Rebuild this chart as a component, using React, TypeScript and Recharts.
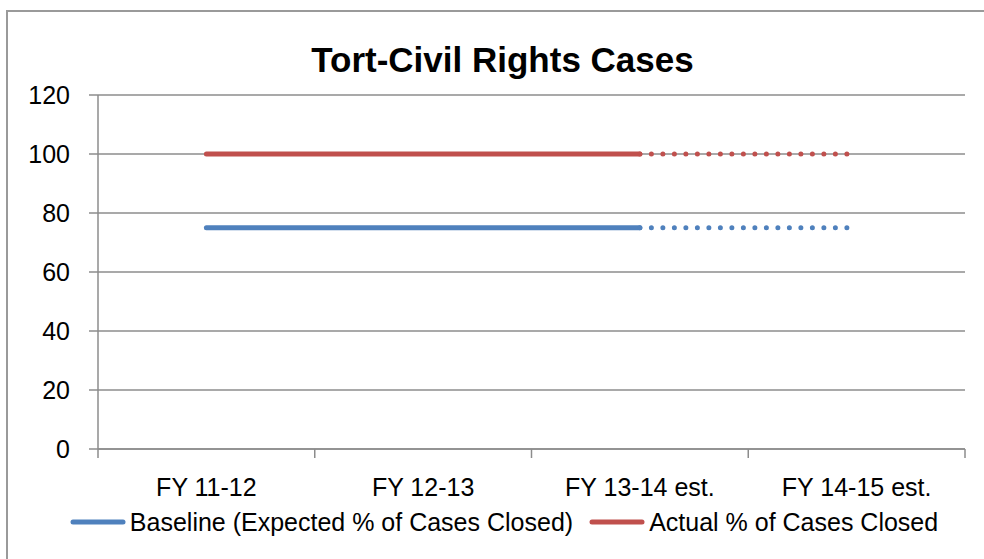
import React from 'react';
import { LineChart, Line, XAxis, YAxis, CartesianGrid, Legend } from 'recharts';

const TITLE = 'Tort-Civil Rights Cases';
const categories = ['FY 11-12', 'FY 12-13', 'FY 13-14 est.', 'FY 14-15 est.'];
const baselineValues = [75, 75, 75, 75];
const actualValues = [100, 100, 100, 100];
const isEstimate = [false, false, true, true];
const yTicks = [0, 20, 40, 60, 80, 100, 120];
const seriesNames = ['Baseline (Expected % of Cases Closed)', 'Actual % of Cases Closed'];
const seriesColors = ['#4F81BD', '#C0504D'];

const FONT = '"Liberation Sans", Arial, sans-serif';
const W = 984;
const H = 559;
const MARGIN = { top: 95, right: 19, bottom: 50, left: 0 };
const Y_AXIS_W = 98;
const X_AXIS_H = 60;
const GRID = '#8c8c8c';

const seriesValues = [baselineValues, actualValues];
const keys = ['baseline', 'actual'];

const data = categories.map((cat, i) => {
  const row: Record<string, any> = { cat };
  const solid = !isEstimate[i] || (i > 0 && !isEstimate[i - 1]);
  const dotted = isEstimate[i];
  keys.forEach((k, s) => {
    row[k + 'Solid'] = solid ? seriesValues[s][i] : null;
    row[k + 'Dotted'] = dotted ? seriesValues[s][i] : null;
  });
  return row;
});

const plotWidth = W - MARGIN.left - MARGIN.right - Y_AXIS_W;
const band = plotWidth / categories.length;

const XTick = (props: any) => {
  const { x, y, payload, index } = props;
  const cx = x;
  return (
    <g>
      <line x1={cx - band / 2} y1={y} x2={cx - band / 2} y2={y + 9} stroke={GRID} strokeWidth={1.5} />
      {index === categories.length - 1 && (
        <line x1={cx + band / 2} y1={y} x2={cx + band / 2} y2={y + 9} stroke={GRID} strokeWidth={1.5} />
      )}
      <text x={cx} y={y} dy={47} textAnchor="middle" fontSize={25} fontFamily={FONT} fill="#000">
        {payload.value}
      </text>
    </g>
  );
};

const LegendContent = () => (
  <div
    style={{
      display: 'flex',
      justifyContent: 'center',
      alignItems: 'center',
      fontFamily: FONT,
      fontSize: 25,
      height: 30,
      lineHeight: '30px',
      color: '#000',
      whiteSpace: 'nowrap',
    }}
  >
    {seriesNames.map((name, i) => (
      <div key={name} style={{ display: 'flex', alignItems: 'center', marginLeft: i > 0 ? 16 : 0 }}>
        <svg width={56} height={10} style={{ display: 'block' }}>
          <line x1={3} y1={5} x2={53} y2={5} stroke={seriesColors[i]} strokeWidth={5} strokeLinecap="round" />
        </svg>
        <span style={{ marginLeft: 4 }}>{name}</span>
      </div>
    ))}
  </div>
);

export default function App() {
  return (
    <div style={{ position: 'absolute', left: 0, top: 0, width: W, height: H, overflow: 'hidden', background: '#fff' }}>
      <div
        style={{
          position: 'absolute',
          left: 6,
          top: 10,
          width: 2000,
          height: 2000,
          borderLeft: `2px solid ${'#9a9a9a'}`,
          borderTop: `2px solid ${'#9a9a9a'}`,
        }}
      />
      <div
        style={{
          position: 'absolute',
          left: 0,
          top: 40,
          width: 1005,
          textAlign: 'center',
          fontFamily: FONT,
          fontWeight: 'bold',
          fontSize: 35,
          lineHeight: '40px',
          color: '#000',
        }}
      >
        {TITLE}
      </div>
      <div style={{ position: 'absolute', left: 0, top: 0 }}>
        <LineChart width={W} height={H} data={data} margin={MARGIN}>
          <CartesianGrid vertical={false} stroke={GRID} strokeWidth={1.5} />
          <XAxis
            dataKey="cat"
            scale="band"
            height={X_AXIS_H}
            tickLine={false}
            tickSize={0}
            tickMargin={0}
            axisLine={{ stroke: GRID, strokeWidth: 1.5 }}
            tick={<XTick />}
            interval={0}
          />
          <YAxis
            width={Y_AXIS_W}
            domain={[0, 120]}
            ticks={yTicks}
            interval={0}
            tickSize={9}
            tickMargin={19}
            axisLine={{ stroke: GRID, strokeWidth: 1.5 }}
            tickLine={{ stroke: GRID, strokeWidth: 1.5 }}
            tick={{ fontSize: 25, fontFamily: FONT, fill: '#000' }}
          />
          <Legend
            layout="horizontal"
            verticalAlign="middle"
            content={<LegendContent />}
            wrapperStyle={{ position: 'absolute', left: 12, top: 507, width: W, height: 30 }}
          />
          {keys.map((k, i) => (
            <Line
              key={k + 'Solid'}
              dataKey={k + 'Solid'}
              name={seriesNames[i]}
              stroke={seriesColors[i]}
              strokeWidth={5}
              strokeLinecap="round"
              dot={false}
              activeDot={false}
              connectNulls={false}
              isAnimationActive={false}
            />
          ))}
          {keys.map((k, i) => (
            <Line
              key={k + 'Dotted'}
              dataKey={k + 'Dotted'}
              name={seriesNames[i] + ' est.'}
              legendType="none"
              stroke={seriesColors[i]}
              strokeWidth={5}
              strokeLinecap="round"
              strokeDasharray="0 11.5"
              dot={false}
              activeDot={false}
              connectNulls={false}
              isAnimationActive={false}
            />
          ))}
        </LineChart>
      </div>
    </div>
  );
}
